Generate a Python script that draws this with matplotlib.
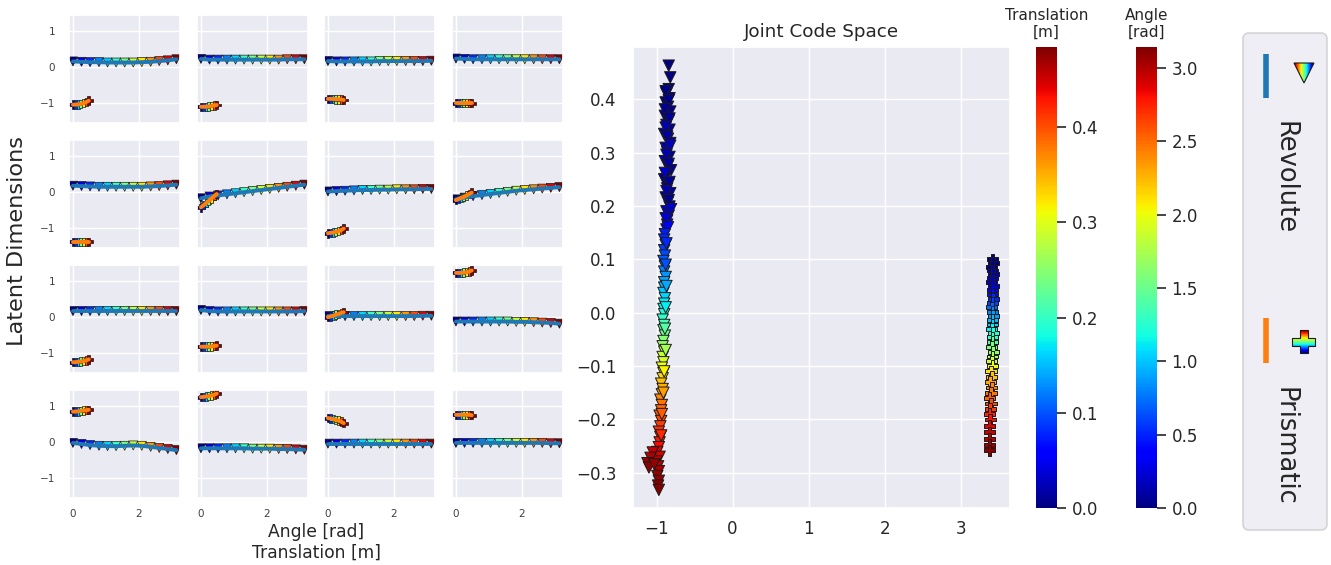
#!/usr/bin/env python3
"""
Latent dimensions per joint type, plus the joint code space with colour bars
"""

import numpy as np
import matplotlib
matplotlib.use("Agg")
import matplotlib.pyplot as plt
import seaborn as sns
from matplotlib.patches import FancyBboxPatch, Polygon
from matplotlib.colors import Normalize
import matplotlib.cm as cm

sns.set_theme(style="darkgrid", font_scale=1.1)
plt.rcParams['font.family'] = ['DejaVu Sans']

# ---- small multiples: latent value vs joint state ----
rev_angles = [0.0, 0.26, 0.52, 0.79, 1.05, 1.31, 1.57, 1.83, 2.09, 2.36, 2.62, 2.88, 3.14]
pris_trans = [0.0, 0.08, 0.16, 0.24, 0.32, 0.40, 0.48]

rev_latent = [
    [0.16, 0.15, 0.14, 0.14, 0.13, 0.13, 0.13, 0.13, 0.14, 0.15, 0.17, 0.19, 0.22],
    [0.23, 0.21, 0.21, 0.21, 0.21, 0.21, 0.21, 0.21, 0.21, 0.21, 0.22, 0.22, 0.22],
    [0.17, 0.16, 0.16, 0.16, 0.16, 0.16, 0.17, 0.17, 0.17, 0.17, 0.17, 0.17, 0.18],
    [0.24, 0.23, 0.22, 0.22, 0.22, 0.22, 0.22, 0.22, 0.22, 0.22, 0.22, 0.22, 0.22],
    [0.18, 0.17, 0.16, 0.15, 0.15, 0.15, 0.15, 0.15, 0.15, 0.16, 0.17, 0.19, 0.21],
    [-0.17, -0.12, -0.09, -0.06, -0.03, 0.0, 0.03, 0.06, 0.09, 0.12, 0.15, 0.18, 0.21],
    [0.02, 0.03, 0.04, 0.05, 0.06, 0.06, 0.07, 0.07, 0.08, 0.08, 0.08, 0.09, 0.09],
    [-0.2, -0.15, -0.11, -0.08, -0.05, -0.02, 0.01, 0.04, 0.06, 0.08, 0.1, 0.12, 0.14],
    [0.17, 0.17, 0.17, 0.17, 0.17, 0.17, 0.17, 0.17, 0.17, 0.17, 0.17, 0.17, 0.17],
    [0.2, 0.17, 0.16, 0.16, 0.16, 0.16, 0.16, 0.16, 0.16, 0.16, 0.16, 0.16, 0.17],
    [0.03, 0.03, 0.03, 0.03, 0.03, 0.03, 0.03, 0.03, 0.03, 0.03, 0.03, 0.04, 0.04],
    [-0.12, -0.12, -0.12, -0.12, -0.12, -0.12, -0.12, -0.13, -0.13, -0.14, -0.15, -0.16, -0.18],
    [-0.02, -0.05, -0.08, -0.1, -0.11, -0.11, -0.1, -0.09, -0.1, -0.13, -0.16, -0.19, -0.22],
    [-0.17, -0.17, -0.17, -0.17, -0.17, -0.17, -0.18, -0.18, -0.18, -0.19, -0.19, -0.2, -0.21],
    [-0.04, -0.04, -0.04, -0.04, -0.04, -0.04, -0.04, -0.04, -0.04, -0.04, -0.04, -0.04, -0.04],
    [-0.02, -0.02, -0.02, -0.02, -0.02, -0.02, -0.02, -0.02, -0.02, -0.02, -0.02, -0.03, -0.03],
]

pris_latent = [
    [-1.04, -1.04, -1.03, -1.02, -1.0, -0.97, -0.93],
    [-1.1, -1.1, -1.1, -1.09, -1.08, -1.06, -1.05],
    [-0.88, -0.88, -0.88, -0.89, -0.89, -0.9, -0.91],
    [-1.0, -1.0, -1.0, -1.0, -1.0, -1.0, -1.0],
    [-1.38, -1.38, -1.38, -1.38, -1.38, -1.38, -1.38],
    [-0.42, -0.36, -0.3, -0.24, -0.17, -0.11, -0.05],
    [-1.14, -1.13, -1.12, -1.1, -1.08, -1.05, -1.01],
    [-0.22, -0.19, -0.16, -0.13, -0.09, -0.05, -0.01],
    [-1.25, -1.25, -1.24, -1.23, -1.22, -1.2, -1.17],
    [-0.82, -0.82, -0.82, -0.82, -0.81, -0.8, -0.79],
    [0.0, 0.02, 0.04, 0.07, 0.09, 0.12, 0.14],
    [1.23, 1.23, 1.23, 1.24, 1.25, 1.27, 1.3],
    [0.85, 0.85, 0.86, 0.87, 0.88, 0.89, 0.9],
    [1.25, 1.26, 1.27, 1.28, 1.3, 1.32, 1.35],
    [0.67, 0.66, 0.64, 0.62, 0.6, 0.57, 0.53],
    [0.76, 0.76, 0.76, 0.76, 0.76, 0.76, 0.75],
]

# ---- joint code space ----
rev_code_y = [
    0.463, 0.441,
    0.419, 0.411, 0.402, 0.394, 0.386, 0.377, 0.369, 0.360, 0.352, 0.343,
    0.335, 0.326, 0.318, 0.309, 0.301, 0.292, 0.284, 0.275, 0.267, 0.258,
    0.250, 0.241, 0.233, 0.224, 0.216, 0.207, 0.199, 0.190, 0.182, 0.173,
    0.165, 0.156,
    0.415, 0.398, 0.381, 0.364, 0.347, 0.330, 0.313, 0.296, 0.279, 0.262,
    0.245, 0.228, 0.211, 0.194, 0.177, 0.160,
    0.147, 0.137, 0.127, 0.117, 0.107, 0.097, 0.087, 0.077, 0.067, 0.057,
    0.047, 0.037, 0.027, 0.017, 0.007, -0.003, -0.013, -0.023, -0.033, -0.043,
    -0.053, -0.063, -0.073, -0.083, -0.093, -0.103, -0.113, -0.123, -0.133, -0.143,
    -0.153, -0.163, -0.173, -0.183, -0.193, -0.203, -0.213, -0.223, -0.233, -0.243,
    0.130, 0.090, 0.050, 0.010, -0.030, -0.070, -0.110, -0.150, -0.190, -0.230,
    -0.252, -0.261, -0.270, -0.279, -0.288, -0.297, -0.306, -0.315, -0.324, -0.332,
    -0.262, -0.272, -0.282, -0.290, -0.284,
]
rev_code_angle = [
    0.0, 0.01,
    0.02, 0.04, 0.06, 0.03, 0.08, 0.05, 0.10, 0.06, 0.14, 0.08,
    0.12, 0.18, 0.10, 0.15, 0.20, 0.12, 0.16, 0.22, 0.08, 0.14,
    0.05, 0.10, 0.06, 0.12, 0.08, 0.15, 0.18, 0.20, 0.24, 0.28,
    0.32, 0.38,
    0.02, 0.05, 0.06, 0.09, 0.14, 0.12, 0.18, 0.15, 0.10, 0.22,
    0.08, 0.14, 0.06, 0.20, 0.26, 0.36,
    0.48, 0.51, 0.54, 0.58, 0.62, 0.67, 0.73, 0.79, 0.85, 0.90,
    0.95, 1.00, 1.05, 1.10, 1.15, 1.21, 1.28, 1.36, 1.44, 1.52,
    1.60, 1.68, 1.76, 1.84, 1.92, 2.00, 2.07, 2.14, 2.21, 2.28,
    2.35, 2.41, 2.47, 2.52, 2.57, 2.62, 2.66, 2.70, 2.74, 2.78,
    0.52, 0.64, 0.92, 1.12, 1.42, 1.72, 2.04, 2.33, 2.55, 2.72,
    2.82, 2.86, 2.90, 2.94, 2.98, 3.02, 3.06, 3.09, 3.12, 3.14,
    2.95, 3.00, 3.05, 3.10, 3.08,
]
rev_code_x = [
    -0.84, -0.82,
    -0.84, -0.87, -0.83, -0.88, -0.85, -0.82, -0.89, -0.84, -0.87, -0.83,
    -0.90, -0.85, -0.82, -0.88, -0.86, -0.83, -0.89, -0.85, -0.81, -0.87,
    -0.90, -0.84, -0.86, -0.82, -0.88, -0.85, -0.83, -0.87, -0.84, -0.86,
    -0.86, -0.87,
    -0.88, -0.84, -0.89, -0.83, -0.88, -0.86, -0.82, -0.87, -0.84, -0.89,
    -0.83, -0.87, -0.84, -0.81, -0.88, -0.85,
    -0.89, -0.90, -0.88, -0.90, -0.89, -0.91, -0.89, -0.90, -0.88, -0.90,
    -0.90, -0.91, -0.89, -0.90, -0.91, -0.90, -0.92, -0.90, -0.91, -0.89,
    -0.91, -0.92, -0.90, -0.92, -0.91, -0.93, -0.91, -0.92, -0.94, -0.92,
    -0.93, -0.95, -0.93, -0.94, -0.96, -0.94, -0.95, -0.97, -0.95, -0.96,
    -0.87, -0.88, -0.87, -0.88, -0.89, -0.88, -0.90, -0.91, -0.93, -0.94,
    -0.97, -0.99, -0.96, -1.00, -0.98, -0.97, -0.99, -0.97, -0.98, -0.97,
    -1.05, -1.08, -1.12, -1.10, -1.03,
]

pris_code_y = [
    0.100, 0.093, 0.086, 0.079, 0.072, 0.065, 0.058, 0.050, 0.042, 0.034,
    0.026, 0.018, 0.010, 0.002, -0.006, -0.014, -0.022, -0.030, -0.038, -0.046,
    -0.055, -0.064, -0.073, -0.082, -0.091, -0.100, -0.110, -0.120, -0.130, -0.140,
    -0.150, -0.160, -0.170, -0.180, -0.190, -0.200, -0.212, -0.224, -0.236, -0.248, -0.258,
]
pris_code_trans = [
    0.000, 0.003, 0.007, 0.012, 0.018, 0.024, 0.032, 0.042, 0.055, 0.067,
    0.080, 0.093, 0.110, 0.125, 0.135, 0.150, 0.160, 0.175, 0.190, 0.200,
    0.220, 0.240, 0.255, 0.270, 0.290, 0.310, 0.325, 0.340, 0.355, 0.370,
    0.380, 0.390, 0.400, 0.410, 0.420, 0.430, 0.440, 0.450, 0.460, 0.470, 0.480,
]
pris_code_x = [
    3.42, 3.43, 3.41, 3.42, 3.43, 3.42, 3.41, 3.43, 3.42, 3.42,
    3.43, 3.42, 3.41, 3.42, 3.43, 3.42, 3.42, 3.41, 3.43, 3.42,
    3.42, 3.41, 3.43, 3.42, 3.41, 3.42, 3.40, 3.41, 3.39, 3.41,
    3.40, 3.38, 3.40, 3.39, 3.38, 3.39, 3.38, 3.38, 3.38, 3.38, 3.38,
]

ANGLE_MAX = 3.14159
TRANS_MAX = 0.484

W, H = 1331, 565
fig = plt.figure(figsize=(W / 100, H / 100), dpi=100)


def px_axes(left, top, right, bottom, **kw):
    # axes placed by pixel box (origin top-left)
    return fig.add_axes([left / W, 1 - bottom / H, (right - left) / W, (bottom - top) / H], **kw)


col_left = [69, 197, 324, 452]
row_top = [15, 140, 265, 390]

for i in range(16):
    r, c = divmod(i, 4)
    ax = px_axes(col_left[c], row_top[r], col_left[c] + 111, row_top[r] + 108)
    ax.scatter(rev_angles, rev_latent[i], c=rev_angles, cmap='jet', vmin=0, vmax=ANGLE_MAX,
               marker='v', s=42, edgecolors='k', linewidths=0.5, zorder=2)
    ax.plot(rev_angles, rev_latent[i], color='tab:blue', lw=2.8, zorder=3)
    ax.scatter(pris_trans, pris_latent[i], c=pris_trans, cmap='jet', vmin=0, vmax=TRANS_MAX,
               marker='P', s=38, edgecolors='k', linewidths=0.5, zorder=2)
    ax.plot(pris_trans, pris_latent[i], color='tab:orange', lw=2.8, zorder=3)
    ax.set_xlim(-0.12, 3.25)
    ax.set_ylim(-1.55, 1.45)
    ax.set_xticks([0, 2])
    ax.set_yticks([-1, 0, 1])
    ax.tick_params(labelsize=7.5, length=0, pad=10, labelcolor='.25')
    ax.tick_params(axis='x', pad=8)
    if c > 0:
        ax.set_yticklabels([])
    if r < 3:
        ax.set_xticklabels([])

# joint code space
ax_j = px_axes(633, 47, 1010, 508)
ax_j.scatter(rev_code_x, rev_code_y, c=rev_code_angle, cmap='jet', vmin=0, vmax=ANGLE_MAX,
             marker='v', s=68, edgecolors='k', linewidths=0.7)
ax_j.scatter(pris_code_x, pris_code_y, c=pris_code_trans, cmap='jet', vmin=0, vmax=TRANS_MAX,
             marker='P', s=68, edgecolors='k', linewidths=0.7)
ax_j.set_xlim(-1.31, 3.65)
ax_j.set_ylim(-0.366, 0.498)
ax_j.set_xticks([-1, 0, 1, 2, 3])
ax_j.set_yticks([-0.3, -0.2, -0.1, 0.0, 0.1, 0.2, 0.3, 0.4])
ax_j.tick_params(labelsize=12.1, length=0, pad=12)
ax_j.tick_params(axis='x', pad=9)
ax_j.set_title("Joint Code Space", fontsize=13.2, pad=7)

# colour bars
cax1 = px_axes(1036, 47, 1057, 508)
cb1 = fig.colorbar(cm.ScalarMappable(norm=Normalize(0, TRANS_MAX), cmap='jet'), cax=cax1)
cb1.set_ticks([0.0, 0.1, 0.2, 0.3, 0.4])
cax1.set_title("Translation\n[m]", fontsize=11, pad=7)

cax2 = px_axes(1136, 47, 1157, 508)
cb2 = fig.colorbar(cm.ScalarMappable(norm=Normalize(0, ANGLE_MAX), cmap='jet'), cax=cax2)
cb2.set_ticks([0.0, 0.5, 1.0, 1.5, 2.0, 2.5, 3.0])
cax2.set_title("Angle\n[rad]", fontsize=11, pad=7)

for cb in (cb1, cb2):
    cb.outline.set_visible(False)
    cb.ax.tick_params(labelsize=12.1, length=6.5, width=1.2, pad=4, color='.15')

# overlay in pixel coordinates for figure labels and the legend
ov = fig.add_axes([0, 0, 1, 1], zorder=10)
ov.axis('off')

ov.text(17, 241, "Latent Dimensions", rotation=90, ha='center', va='center',
        fontsize=16.2, color='.15')
ov.text(316, 542, "Angle [rad]\nTranslation [m]", ha='center', va='center',
        fontsize=12.3, color='.15')

box = FancyBboxPatch((1243, 33), 84, 497, boxstyle="round,pad=0,rounding_size=6",
                     fc=(0.918, 0.918, 0.949, 0.8), ec=(0.8, 0.8, 0.8, 0.8), lw=1.2, zorder=1)
ov.add_patch(box)
ov.plot([1266, 1266], [54, 98], color='tab:blue', lw=4, solid_capstyle='butt', zorder=2)
ov.plot([1266, 1266], [318, 363], color='tab:orange', lw=4, solid_capstyle='butt', zorder=2)

grad = np.linspace(1, 0, 64)
tri = Polygon([(1294, 63), (1314, 63), (1304, 83)], closed=True, fc='none', ec='k',
              lw=0.8, zorder=4)
ov.add_patch(tri)
im = ov.imshow(grad[None, :], cmap='jet', extent=(1294, 1314, 83, 63), aspect='auto', zorder=3)
im.set_clip_path(tri)

cx, cy, a, b = 1303.5, 341.5, 11.5, 4
plus = Polygon([(cx - b, cy - a), (cx + b, cy - a), (cx + b, cy - b), (cx + a, cy - b),
                (cx + a, cy + b), (cx + b, cy + b), (cx + b, cy + a), (cx - b, cy + a),
                (cx - b, cy + b), (cx - a, cy + b), (cx - a, cy - b), (cx - b, cy - b)],
               closed=True, fc='none', ec='k', lw=0.8, zorder=4)
ov.add_patch(plus)
im2 = ov.imshow(grad[:, None], cmap='jet', extent=(cx - a, cx + a, cy + a, cy - a),
                origin='upper', aspect='auto', zorder=3)
im2.set_clip_path(plus)

ov.text(1285, 178, "Revolute", rotation=270, ha='center', va='center', fontsize=18.5, color='.15')
ov.text(1285, 446, "Prismatic", rotation=270, ha='center', va='center', fontsize=18.5, color='.15')

ov.set_xlim(0, W)
ov.set_ylim(H, 0)

fig.savefig("out.png", dpi=100)
